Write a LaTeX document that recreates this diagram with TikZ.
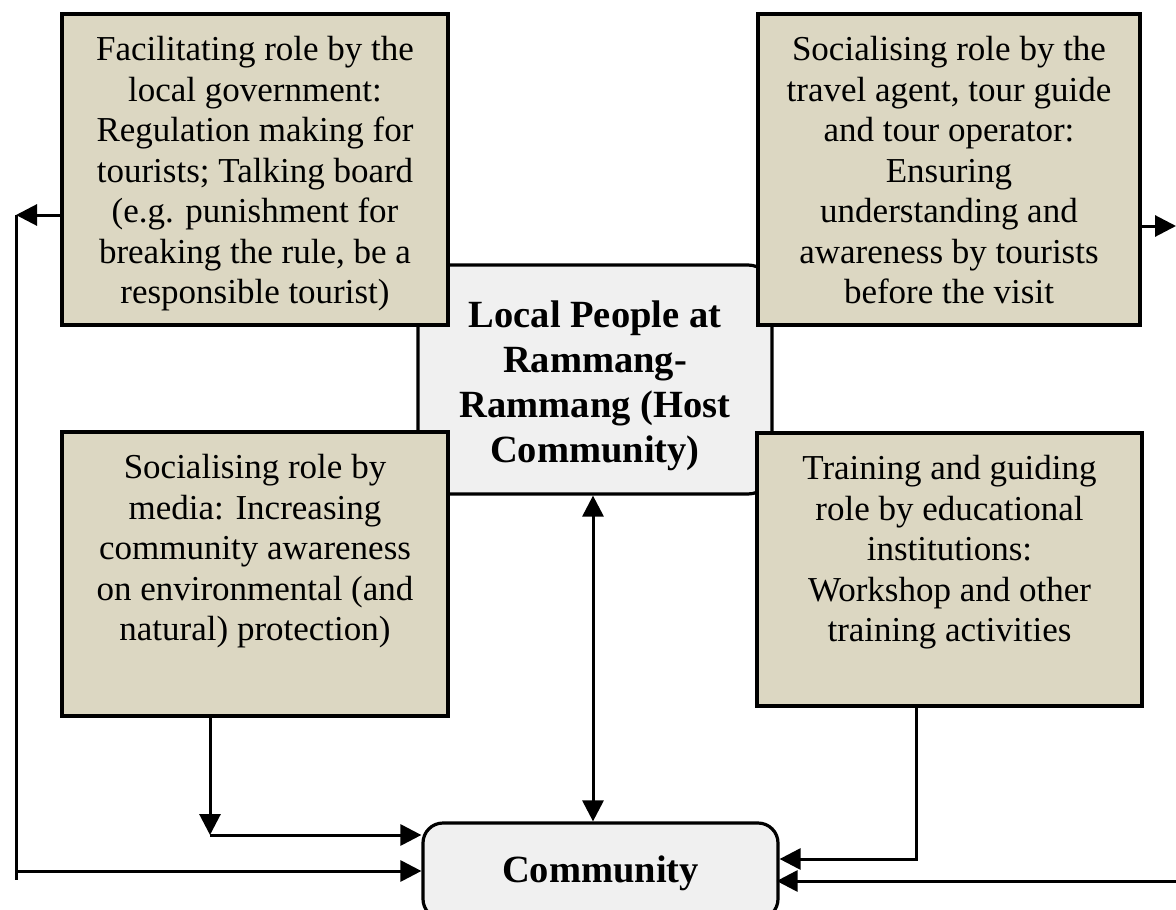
\documentclass[tikz,border=0pt]{standalone}
\usepackage{fontspec}
\setmainfont{Liberation Serif}
\usetikzlibrary{arrows.meta}
\definecolor{beige}{HTML}{DCD7C2}
\definecolor{lightgr}{HTML}{F0F0F0}
\tikzset{
  rolebox/.style={draw=black, line width=3.2pt, fill=beige, rectangle, inner sep=0pt},
  roletext/.style={align=center, inner sep=0pt, anchor=north, font=\fontsize{35}{40.5}\selectfont},
  hostbox/.style={draw=black, line width=3.2pt, fill=lightgr, rounded corners=24pt, inner sep=0pt},
  hosttext/.style={align=center, inner sep=0pt, font=\fontsize{38.5}{45}\selectfont\bfseries},
  conn/.style={line width=3pt},
  arr/.style={conn, -{Triangle[length=21pt,width=21pt]}},
  barr/.style={conn, {Triangle[length=21pt,width=21pt]}-{Triangle[length=21pt,width=21pt]}}
}
\begin{document}
\begin{tikzpicture}[x=1pt,y=-1pt]
\useasboundingbox (0,0) rectangle (1176,910);
% centre box (behind)
\node[hostbox, minimum width=354pt, minimum height=229pt] (C) at (595,379.5) {};
\node[hosttext] (Ct) at ([yshift=-6pt]C.center) {Local People at\\Rammang-\\Rammang (Host\\Community)};
% community box
\node[hostbox, rounded corners=20pt, minimum width=355pt, minimum height=96pt] (Com) at (600.5,871) {};
\node[hosttext] (Comt) at ([yshift=-2pt]Com.center) {Community};
% role boxes
\node[rolebox, minimum width=386pt, minimum height=311pt] (TL) at (255,169.5) {};
\node[rolebox, minimum width=382pt, minimum height=311pt] (TR) at (949,169.5) {};
\node[rolebox, minimum width=386pt, minimum height=284pt] (BL) at (255,574) {};
\node[rolebox, minimum width=385pt, minimum height=273pt] (BR) at (949.5,569.5) {};
\node[roletext] (TLt) at ([yshift=-24pt]TL.north) {Facilitating role by the\\local government:\\Regulation making for\\tourists; Talking board\\(e.g. punishment for\\breaking the rule, be a\\responsible tourist)};
\node[roletext] (TRt) at ([yshift=-24pt]TR.north) {Socialising role by the\\travel agent, tour guide\\and tour operator:\\Ensuring\\understanding and\\awareness by tourists\\before the visit};
\node[roletext] (BLt) at ([yshift=-24pt]BL.north) {Socialising role by\\media: Increasing\\community awareness\\on environmental (and\\natural) protection)};
\node[roletext] (BRt) at ([yshift=-24pt]BR.north) {Training and guiding\\role by educational\\institutions:\\Workshop and other\\training activities};
% connectors
\coordinate (lt) at (16,215);
\coordinate (lb) at (16,880);
\coordinate (lh) at (16,871);
\draw[arr] (TL.west |- lt) -- (lt);
\draw[conn] (lt) -- (lb);
\draw[arr] (lh) -- (lh -| Com.west);
\coordinate (bl1) at (210,835);
\draw[arr] (BL.south -| bl1) -- (bl1);
\draw[arr] (bl1) -- (bl1 -| Com.west);
\coordinate (br1) at (916,859);
\draw[arr] (BR.south -| br1) -- (br1) -- (br1 -| Com.east);
\coordinate (tr1) at (1176,226);
\draw[arr] (TR.east |- tr1) -- (tr1);
\coordinate (rb) at (1176,881);
\draw[arr] (rb) -- ([xshift=-3pt]rb -| Com.east);
\coordinate (cx) at (593,0);
\draw[barr] (C.south -| cx) -- (Com.north -| cx);
\end{tikzpicture}
\end{document}
